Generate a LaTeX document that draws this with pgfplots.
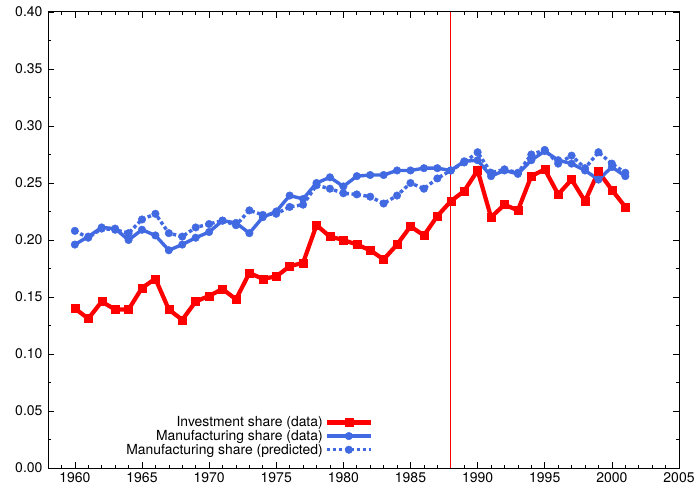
\documentclass[border=0pt]{standalone}
\usepackage{pgfplots}
\pgfplotsset{compat=1.18}
\usepackage{fontspec}
\setmainfont{TeX Gyre Heros}

\definecolor{invred}{RGB}{255,0,0}
\definecolor{manblue}{RGB}{65,105,225}

\pgfplotstableread{
year inv man pred
1960 0.140 0.196 0.208
1961 0.131 0.203 0.202
1962 0.146 0.211 0.210
1963 0.139 0.210 0.209
1964 0.139 0.200 0.206
1965 0.158 0.209 0.218
1966 0.166 0.204 0.223
1967 0.139 0.191 0.206
1968 0.130 0.196 0.203
1969 0.146 0.202 0.211
1970 0.151 0.207 0.214
1971 0.157 0.217 0.217
1972 0.148 0.215 0.213
1973 0.171 0.206 0.226
1974 0.166 0.220 0.222
1975 0.168 0.225 0.223
1976 0.177 0.239 0.229
1977 0.180 0.236 0.231
1978 0.213 0.250 0.248
1979 0.203 0.255 0.245
1980 0.200 0.247 0.241
1981 0.196 0.256 0.240
1982 0.191 0.257 0.238
1983 0.183 0.257 0.232
1984 0.196 0.261 0.239
1985 0.212 0.261 0.250
1986 0.204 0.263 0.245
1987 0.221 0.263 0.254
1988 0.234 0.261 0.261
1989 0.243 0.269 0.268
1990 0.261 0.270 0.277
1991 0.220 0.256 0.259
1992 0.231 0.261 0.262
1993 0.226 0.258 0.259
1994 0.256 0.270 0.275
1995 0.262 0.278 0.279
1996 0.240 0.270 0.267
1997 0.253 0.267 0.274
1998 0.234 0.261 0.263
1999 0.260 0.253 0.277
2000 0.244 0.264 0.267
2001 0.229 0.256 0.259
}\datatable

\begin{document}
\begin{tikzpicture}
\begin{axis}[
    scale only axis,
    width=631pt, height=456pt,
    xmin=1958, xmax=2005,
    ymin=0, ymax=0.40,
    xtick={1960,1965,...,2005},
    minor xtick={1958,1959,...,2005},
    ytick={0,0.05,...,0.40},
    minor ytick={0.025,0.075,...,0.375},
    tick align=inside,
    major tick length=6pt,
    minor tick length=3pt,
    xticklabel={\fontsize{14}{16}\selectfont\pgfmathprintnumber[1000 sep=,assume math mode=true]{\tick}},
    yticklabel={\fontsize{14}{16}\selectfont\pgfmathprintnumber[fixed,precision=2,fixed zerofill,assume math mode=true]{\tick}},
    xticklabel style={inner xsep=0pt, yshift=-1pt},
    yticklabel style={xshift=-2pt},
    axis line style={line width=1pt},
    tick style={line width=0.6pt, black},
    legend style={draw=none, fill=none, at={(0.520,0.018)}, anchor=south east,
        font=\fontsize{13.9}{16}\selectfont, row sep=-2pt, nodes={inner xsep=2pt}},
    legend cell align=right,
    legend plot pos=right,
    legend image code/.code={\draw[mark repeat=2,mark phase=2,#1]
        plot coordinates {(0pt,0pt)(22pt,0pt)(44pt,0pt)};},
]
\addplot[invred, line width=4.2pt, mark=square*, mark size=4pt, mark options={solid, line width=0.4pt}]
    table[x=year, y=inv] {\datatable};
\addlegendentry{Investment share (data)}
\addplot[manblue, line width=3.4pt, mark=*, mark size=3.8pt, mark options={solid, line width=0.4pt}]
    table[x=year, y=man] {\datatable};
\addlegendentry{Manufacturing share (data)}
\addplot[manblue, line width=3.4pt, dash pattern=on 3.5pt off 2.5pt, mark=*, mark size=3.8pt, mark options={solid, line width=0.4pt}]
    table[x=year, y=pred] {\datatable};
\addlegendentry{Manufacturing share (predicted)}
\addplot[invred, line width=0.6pt, forget plot] coordinates {(1988,0) (1988,0.40)};
\end{axis}
\path (current axis.south west) +(-48pt,-23pt) (current axis.north east) +(16pt,12pt);
\end{tikzpicture}
\end{document}
